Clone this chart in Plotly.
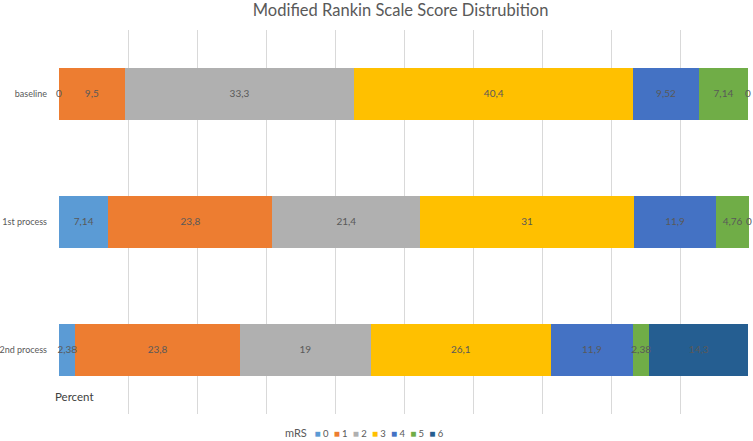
import plotly.graph_objects as go

groups = ["baseline", "1st process", "2nd process"]
scores = ["0", "1", "2", "3", "4", "5", "6"]
mrs0 = [0, 7.14, 2.38]
mrs1 = [9.5, 23.8, 23.8]
mrs2 = [33.3, 21.4, 19]
mrs3 = [40.4, 31, 26.1]
mrs4 = [9.52, 11.9, 11.9]
mrs5 = [7.14, 4.76, 2.38]
mrs6 = [0, 0, 14.3]
colors = ["#5B9BD5", "#ED7D31", "#B0B0B0", "#FFC000", "#4472C4", "#70AD47", "#255E91"]

series = [mrs0, mrs1, mrs2, mrs3, mrs4, mrs5, mrs6]
FONT = "Lato, 'Open Sans', sans-serif"
GREY = "#595959"

fig = go.Figure()
for name, vals, col in zip(scores, series, colors):
    fig.add_trace(go.Bar(
        name=name, y=groups, x=vals, orientation="h",
        marker=dict(color=col, line=dict(width=0)),
        width=0.406, showlegend=False, hoverinfo="x+name",
    ))

# data labels, drawn on top of all bars
lx, ly, lt = [], [], []
for gi, g in enumerate(groups):
    cum = 0
    for vals in series:
        v = vals[gi]
        lx.append(round(cum + v / 2, 4))
        ly.append(g)
        lt.append(f"{v:g}".replace(".", ","))
        cum += v
fig.add_trace(go.Scatter(
    x=lx, y=ly, text=lt, mode="text", textposition="middle center",
    textfont=dict(size=10, color=GREY, family=FONT),
    showlegend=False, hoverinfo="skip", cliponaxis=False,
))

legend_txt = "<span style='font-size:11px'>mRS</span>&nbsp;&nbsp;&nbsp;" + "&nbsp;&nbsp;".join(
    f"<span style='color:{c};font-size:10px'>■</span><span style='font-size:9.5px'>&nbsp;{s}</span>"
    for s, c in zip(scores, colors)
)

fig.update_layout(
    barmode="stack",
    width=753, height=441,
    margin=dict(l=59, r=4, t=30, b=27, autoexpand=False),
    paper_bgcolor="white", plot_bgcolor="white",
    font=dict(family=FONT, color=GREY, size=10),
    title=dict(text="Modified Rankin Scale Score Distrubition",
               x=0.532, xanchor="center", y=0.977, yanchor="middle",
               font=dict(size=16.5, color=GREY, family=FONT),
               automargin=False),
    xaxis=dict(range=[0, 100], dtick=10, showticklabels=False,
               showgrid=True, gridcolor="#D9D9D9", gridwidth=1,
               zeroline=False, showline=False, fixedrange=True,
               automargin=False),
    yaxis=dict(categoryorder="array", categoryarray=groups,
               autorange="reversed", showgrid=False, zeroline=False,
               showline=False, ticks="", ticklabelstandoff=11,
               automargin=False,
               tickfont=dict(size=9, color=GREY, family=FONT)),
    annotations=[
        dict(text="Percent", xref="paper", yref="paper", x=-0.009, y=0.045,
             xanchor="left", yanchor="middle", showarrow=False,
             bgcolor="white", font=dict(size=11.5, color="#404040", family=FONT)),
        dict(text=legend_txt, xref="paper", yref="paper", x=0.443, y=-0.048,
             xanchor="center", yanchor="middle", showarrow=False,
             font=dict(size=10, color=GREY, family=FONT)),
    ],
)

fig.write_html("out.html", config={"displayModeBar": False},
               post_script="document.body.style.margin='0';document.body.style.overflow='hidden';")
